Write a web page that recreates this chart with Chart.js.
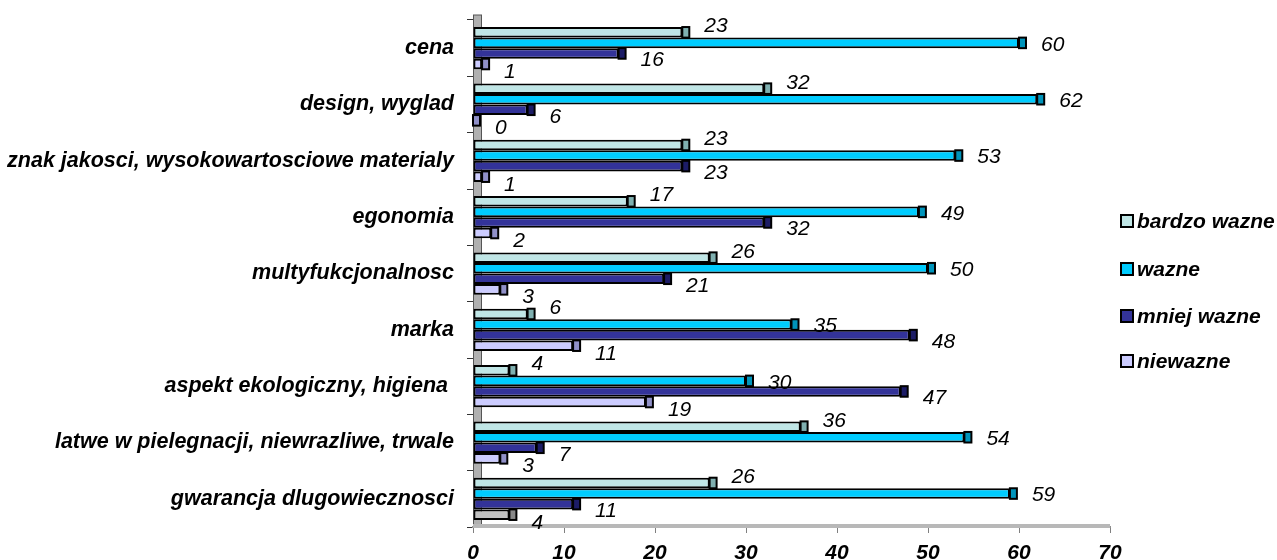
<!DOCTYPE html>
<html>
<head>
<meta charset="utf-8">
<script src="https://cdn.jsdelivr.net/npm/chart.js@4"></script>
<style>
    body { margin: 0; background: #fff; }
    #wrap { position: relative; width: 1277px; height: 560px; }
    #legend { position: absolute; left: 1120px; top: 0; font: italic bold 21px "Liberation Sans", Arial, sans-serif; }
    .item { position: absolute; left: 0; white-space: nowrap; display: flex; align-items: center; }
    .box { width: 10px; height: 10px; border: 2px solid #000; margin-right: 3px; }
</style>
</head>
<body>
<div id="wrap">
    <canvas id="grafico" width="1277" height="560"></canvas>
    <div id="legend"></div>
</div>
<script>
const categories = [
    'cena',
    'design, wyglad',
    'znak jakosci, wysokowartosciowe materialy',
    'egonomia',
    'multyfukcjonalnosc',
    'marka',
    'aspekt ekologiczny, higiena ',
    'latwe w pielegnacji, niewrazliwe, trwale',
    'gwarancja dlugowiecznosci'
];
const seriesNames = ['bardzo wazne', 'wazne', 'mniej wazne', 'niewazne'];
const bardzoWazne = [23, 32, 23, 17, 26, 6, 4, 36, 26];
const wazne = [60, 62, 53, 49, 50, 35, 30, 54, 59];
const mniejWazne = [16, 6, 23, 32, 21, 48, 47, 7, 11];
const niewazne = [1, 0, 1, 2, 3, 11, 19, 3, 4];
const xTicks = [0, 10, 20, 30, 40, 50, 60, 70];

const FONT = '"Liberation Sans", Arial, sans-serif';
const colores = ['#c0e6e6', '#00ccff', '#333399', '#ccccff'];
const sombras = ['#7fb0b0', '#0094bb', '#1c1c66', '#9090c8'];
const labelDy = [-6, 2, 7, 8];

// the last "niewazne" bar is grey in the original
function colorBarra(ds, i, base) {
    if (ds === 3 && i === categories.length - 1) return base === 'main' ? '#c0c0c0' : '#888888';
    return base === 'main' ? colores[ds] : sombras[ds];
}

// 3D wall, bar end caps and value labels
const efecto3d = {
    id: 'efecto3d',
    beforeDatasetsDraw(chart) {
        const { ctx, chartArea: a } = chart;
        ctx.save();
        ctx.fillStyle = '#b0b0b0';
        ctx.fillRect(a.left, a.top - 5, 8, a.bottom - a.top + 5);
        ctx.strokeStyle = '#555';
        ctx.lineWidth = 1;
        ctx.strokeRect(a.left + 0.5, a.top - 5, 8, a.bottom - a.top + 5);
        ctx.fillStyle = '#b8b8b8';
        ctx.fillRect(a.left, a.bottom - 3, a.right - a.left, 4);
        ctx.restore();
    },
    afterDatasetsDraw(chart) {
        const { ctx } = chart;
        ctx.save();
        chart.data.datasets.forEach((ds, d) => {
            chart.getDatasetMeta(d).data.forEach((bar, i) => {
                const h = bar.height;
                ctx.fillStyle = colorBarra(d, i, 'cap');
                ctx.fillRect(bar.x, bar.y - h / 2, 7, h);
                ctx.strokeStyle = '#000';
                ctx.lineWidth = 2;
                ctx.strokeRect(bar.x, bar.y - h / 2, 7, h);
                ctx.fillStyle = '#000';
                ctx.font = 'italic 21px ' + FONT;
                ctx.textAlign = 'left';
                ctx.textBaseline = 'middle';
                ctx.fillText(String(ds.data[i]), bar.x + 22, bar.y + labelDy[d]);
            });
        });
        ctx.restore();
    }
};

const valores = [bardzoWazne, wazne, mniejWazne, niewazne];

new Chart(document.getElementById('grafico').getContext('2d'), {
    type: 'bar',
    data: {
        labels: categories,
        datasets: valores.map((vals, d) => ({
            label: seriesNames[d],
            data: vals,
            backgroundColor: ctx => colorBarra(d, ctx.dataIndex, 'main'),
            borderColor: '#000',
            borderWidth: 2,
            borderSkipped: false,
            categoryPercentage: 0.75,
            barPercentage: 1
        }))
    },
    options: {
        indexAxis: 'y',
        responsive: false,
        devicePixelRatio: 1,
        animation: false,
        layout: { padding: { top: 20, right: 167, left: 0, bottom: 0 } },
        plugins: {
            legend: { display: false },
            tooltip: { enabled: false }
        },
        scales: {
            x: {
                min: 0,
                max: 70,
                afterBuildTicks: scale => { scale.ticks = xTicks.map(v => ({ value: v })); },
                afterFit: scale => { scale.height = 33; },
                grid: { drawOnChartArea: false, tickLength: 6, color: '#808080' },
                border: { color: '#909090', width: 2 },
                ticks: {
                    color: '#000',
                    padding: 8,
                    font: { family: FONT, size: 21, style: 'italic', weight: 'bold' }
                }
            },
            y: {
                afterFit: scale => {
                    scale.width = 473;
                    scale.paddingTop = 0;
                    scale.paddingBottom = 0;
                },
                grid: { drawOnChartArea: false, tickLength: 6, color: '#333', offset: true },
                border: { color: '#777', width: 1 },
                ticks: {
                    autoSkip: false,
                    color: '#000',
                    padding: 13,
                    font: { family: FONT, size: 21.5, style: 'italic', weight: 'bold' }
                }
            }
        }
    },
    plugins: [efecto3d]
});

// legend on the right
const legendTops = [222, 270, 317, 362];
const legend = document.getElementById('legend');
seriesNames.forEach((name, d) => {
    const item = document.createElement('div');
    item.className = 'item';
    item.style.top = (legendTops[d] - 13) + 'px';
    item.innerHTML = `<span class="box" style="background:${colores[d]}"></span><span>${name}</span>`;
    legend.appendChild(item);
});
</script>
</body>
</html>
